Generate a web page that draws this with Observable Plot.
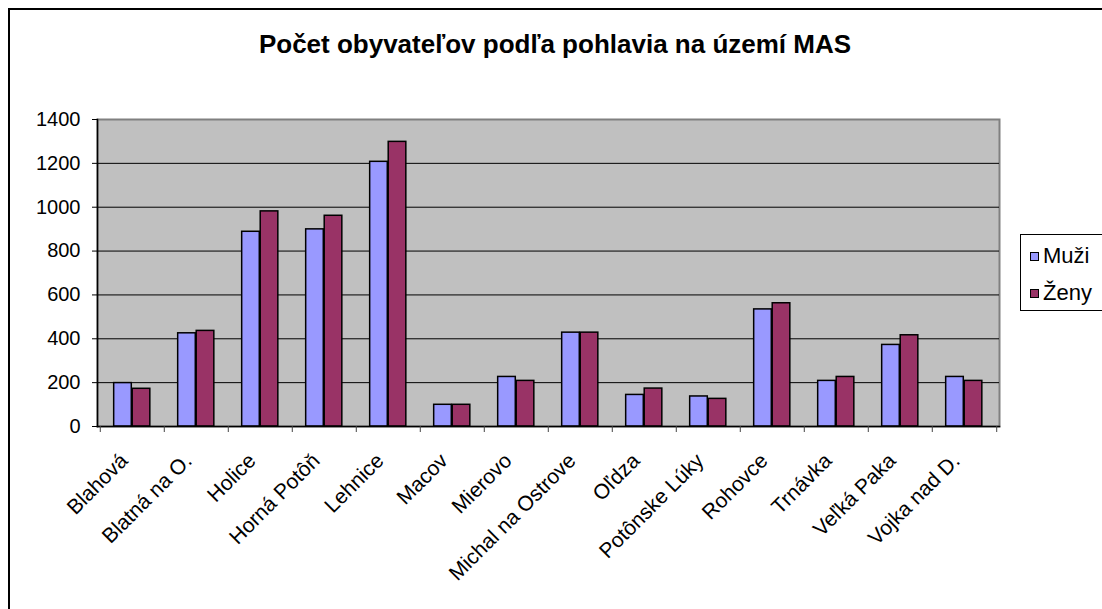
<!DOCTYPE html>
<html>
<head>
<meta charset="utf-8">
<script src="https://cdn.jsdelivr.net/npm/d3@7"></script>
<script src="https://cdn.jsdelivr.net/npm/@observablehq/plot@0.6"></script>
<style>
  html, body { margin: 0; padding: 0; background: #fff; overflow: hidden; }
  #wrap { position: relative; width: 1102px; height: 609px; overflow: hidden; font-family: "Liberation Sans", Arial, sans-serif; }
  #border { position: absolute; left: 8px; top: 8px; width: 1200px; height: 700px; border: 2px solid #000; box-sizing: border-box; }
  #title { position: absolute; left: 0; width: 1102px; top: 29px; text-align: center; font-weight: bold; font-size: 26px; color: #000; padding-left: 8px; box-sizing: border-box; }
  #chart { position: absolute; left: 0; top: 0; }
  #legend { position: absolute; left: 1020px; top: 234px; width: 120px; height: 77px; border: 1px solid #000; box-sizing: border-box; background: #fff; font-size: 22px; }
  .item { position: absolute; left: 9px; height: 26px; line-height: 26px; white-space: nowrap; }
  .sw { display: inline-block; width: 7px; height: 7px; border: 1.5px solid #000; vertical-align: middle; margin-right: 4px; position: relative; top: -1px; }
</style>
</head>
<body>
<div id="wrap">
  <div id="border"></div>
  <div id="title"></div>
  <div id="chart"></div>
  <div id="legend"></div>
</div>
<script>
const titleText = "Počet obyvateľov podľa pohlavia na území MAS";
const categories = ["Blahová", "Blatná na O.", "Holice", "Horná Potôň", "Lehnice", "Macov", "Mierovo", "Michal na Ostrove", "Oľdza", "Potônske Lúky", "Rohovce", "Trnávka", "Veľká Paka", "Vojka nad D."];
const seriesNames = ["Muži", "Ženy"];
const muzi = [198, 425, 888, 899, 1207, 99, 226, 428, 144, 137, 534, 208, 372, 226];
const zeny = [172, 436, 981, 961, 1298, 99, 208, 428, 173, 126, 562, 226, 416, 208];
const yTicks = [0, 200, 400, 600, 800, 1000, 1200, 1400];
const gridTicks = [200, 400, 600, 800, 1000, 1200];
const colors = ["#9999FF", "#993366"];

document.getElementById("title").textContent = titleText;

const W = 1102, H = 609, mL = 97, mR = 103, mT = 119, mB = 183;
const band = (W - mL - mR) / categories.length;
const barW = band * 0.28;

const chart = Plot.plot({
  width: W, height: H,
  marginLeft: mL, marginRight: mR, marginTop: mT, marginBottom: mB,
  style: { fontFamily: "'Liberation Sans', Arial, sans-serif", fontSize: "20px", color: "#000", background: "transparent", overflow: "visible" },
  x: { domain: categories, paddingInner: 0, paddingOuter: 0, axis: null },
  y: { domain: [0, 1400], axis: null },
  marks: [
    Plot.frame({ fill: "#C0C0C0", stroke: "#808080", strokeWidth: 2 }),
    Plot.gridY(gridTicks, { stroke: "#000", strokeOpacity: 1, strokeWidth: 1 }),
    Plot.barY(categories, { x: d => d, y: (d, i) => muzi[i], fill: colors[0], stroke: "#000", strokeWidth: 1.5,
      insetLeft: band / 2 - barW - 0.5, insetRight: band / 2 + 0.5 }),
    Plot.barY(categories, { x: d => d, y: (d, i) => zeny[i], fill: colors[1], stroke: "#000", strokeWidth: 1.5,
      insetLeft: band / 2, insetRight: band / 2 - barW }),
    Plot.frame({ anchor: "left", stroke: "#000", strokeWidth: 1.5 }),
    Plot.frame({ anchor: "bottom", stroke: "#000", strokeWidth: 1.5 }),
    Plot.axisY({ ticks: yTicks, tickFormat: d => String(d), tickSize: 5, tickPadding: 12, fontSize: 20, label: null, stroke: "#000" }),
    Plot.axisX({ tickSize: 6, tickFormat: () => "", label: null, dx: -band / 2, stroke: "#444" }),
    Plot.axisX({ ticks: [categories[categories.length - 1]], tickSize: 6, tickFormat: () => "", label: null, dx: band / 2, stroke: "#444" }),
    Plot.text(categories, { x: d => d, frameAnchor: "bottom", rotate: -45, textAnchor: "end", lineAnchor: "top",
      dx: -14, dy: 25, fontSize: 21, fill: "#000" })
  ]
});
document.getElementById("chart").appendChild(chart);

const legend = document.getElementById("legend");
seriesNames.forEach((name, i) => {
  const item = document.createElement("div");
  item.className = "item";
  item.style.top = (8 + i * 37) + "px";
  const sw = document.createElement("span");
  sw.className = "sw";
  sw.style.background = colors[i];
  item.appendChild(sw);
  item.appendChild(document.createTextNode(name));
  legend.appendChild(item);
});
</script>
</body>
</html>
